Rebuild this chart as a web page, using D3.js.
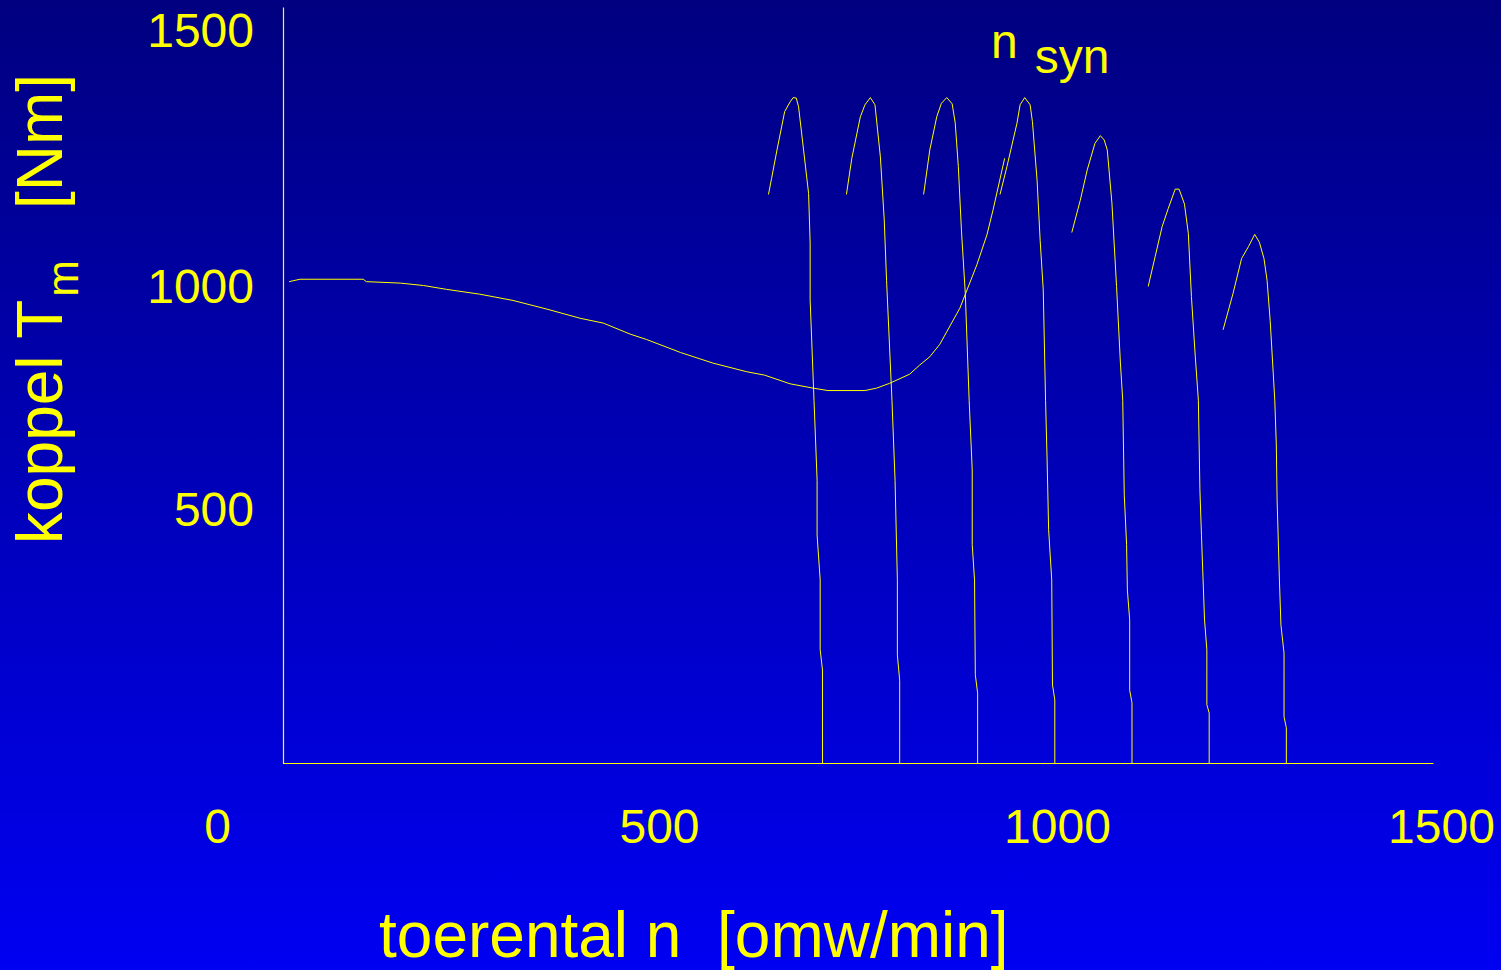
<!DOCTYPE html>
<html>
<head>
<meta charset="utf-8">
<script src="https://cdn.jsdelivr.net/npm/d3@7"></script>
<style>
body { margin: 0; }
svg { display: block; }
text { font-family: "Liberation Sans", Arial, sans-serif; fill: #ffff00; }
</style>
</head>
<body>
<div id="chart"></div>
<script>
var xTickLabels = [0, 500, 1000, 1500];
var yTickLabels = [500, 1000, 1500];

// load curve (speed in omw/min, torque in Nm)
var loadN = [8, 22, 104, 108, 152, 182, 212, 255, 298, 342, 385, 415, 450, 471, 515, 557, 601, 624, 657, 687, 706, 754, 769, 786, 812, 825, 838, 851, 877, 899, 912, 920, 935];
var loadT = [1000, 1005, 1005, 1000, 997, 992, 984, 974, 961, 943, 924, 914, 891, 880, 853, 831, 813, 806, 788, 779, 774, 774, 779, 789, 808, 827, 844, 870, 945, 1035, 1097, 1149, 1256];

// motor curves, one per synchronous speed
var motorSync = [700, 800, 900, 1000, 1100, 1200, 1300];
var motorN = [
  [629, 633, 640, 650, 657, 661, 665, 668, 681, 683, 683, 688, 692, 692, 696, 696, 699, 699],
  [730, 737, 748, 754, 761, 767, 774, 779, 782, 789, 793, 796, 796, 799, 799],
  [830, 838, 847, 853, 860, 867, 871, 875, 879, 884, 889, 893, 893, 896, 897, 900, 900],
  [929, 938, 951, 955, 961, 968, 971, 977, 981, 985, 988, 990, 992, 996, 997, 1000, 1000],
  [1022, 1033, 1042, 1052, 1059, 1064, 1068, 1074, 1080, 1085, 1088, 1090, 1093, 1094, 1097, 1097, 1100, 1100],
  [1121, 1130, 1139, 1147, 1156, 1161, 1168, 1173, 1177, 1182, 1186, 1188, 1190, 1194, 1197, 1197, 1200, 1200],
  [1218, 1231, 1242, 1251, 1259, 1265, 1271, 1275, 1279, 1283, 1285, 1287, 1288, 1291, 1293, 1297, 1297, 1300, 1300]
];
var motorT = [
  [1181, 1214, 1273, 1353, 1373, 1382, 1381, 1363, 1183, 1080, 962, 754, 588, 474, 381, 236, 194, 0],
  [1181, 1256, 1342, 1367, 1382, 1367, 1259, 1128, 1003, 754, 588, 381, 225, 173, 0],
  [1181, 1273, 1342, 1370, 1382, 1369, 1329, 1239, 1107, 976, 754, 609, 454, 381, 184, 146, 0],
  [1181, 1239, 1329, 1367, 1382, 1367, 1332, 1211, 1086, 983, 754, 630, 485, 381, 163, 132, 0],
  [1102, 1169, 1232, 1287, 1303, 1294, 1273, 1163, 990, 831, 754, 557, 454, 360, 298, 152, 126, 0],
  [990, 1052, 1114, 1152, 1192, 1192, 1161, 1100, 969, 844, 754, 568, 474, 298, 236, 122, 105, 0],
  [900, 976, 1048, 1073, 1098, 1082, 1048, 1003, 920, 810, 754, 661, 547, 381, 287, 229, 97, 74, 0]
];

var width = 1501;
var height = 970;

var svg = d3.select('#chart').append('svg')
   .attr('width', width)
   .attr('height', height);

var grad = svg.append('defs').append('linearGradient')
   .attr('id', 'bg')
   .attr('x1', 0).attr('y1', 0).attr('x2', 0).attr('y2', 1);
grad.append('stop').attr('offset', '0%').attr('stop-color', '#000080');
grad.append('stop').attr('offset', '100%').attr('stop-color', '#0000f2');

svg.append('rect')
   .attr('width', width)
   .attr('height', height)
   .attr('fill', 'url(#bg)');

var xScale = d3.scaleLinear().domain([0, 1490]).range([283, 1433]);
var yScale = d3.scaleLinear().domain([0, 1570]).range([763.5, 7]);

// the tick labels on the slide sit a bit off the data scale
var xLabelScale = d3.scaleLinear().domain(xTickLabels).range([217, 659, 1057, 1441]);
var yLabelScale = d3.scaleLinear().domain(yTickLabels).range([510, 287, 31]);

var xAxis = svg.append('g')
   .attr('transform', 'translate(0,' + Math.floor(yScale(0)) + ')')
   .call(d3.axisBottom(xScale).tickValues([]).tickSizeOuter(0));
var yAxis = svg.append('g')
   .attr('transform', 'translate(' + xScale(0) + ',0)')
   .call(d3.axisLeft(yScale).tickValues([]).tickSizeOuter(0));
xAxis.select('.domain').attr('stroke', '#ffff00').attr('stroke-width', 1.2);
yAxis.select('.domain').attr('stroke', '#ffff00').attr('stroke-width', 1.2);

var xLabels = svg.append('g')
   .attr('transform', 'translate(0,809)')
   .call(d3.axisBottom(xLabelScale).tickValues(xTickLabels).tickSize(0).tickPadding(0).tickFormat(d3.format('d')));
var yLabels = svg.append('g')
   .attr('transform', 'translate(254,0)')
   .call(d3.axisLeft(yLabelScale).tickValues(yTickLabels).tickSize(0).tickPadding(0).tickFormat(d3.format('d')));
[xLabels, yLabels].forEach(function(g) {
   g.select('.domain').remove();
   g.attr('color', '#ffff00')
    .attr('font-size', 48)
    .attr('font-family', '"Liberation Sans", Arial, sans-serif');
});

var line = d3.line()
   .x(function(d) { return xScale(d[0]); })
   .y(function(d) { return yScale(d[1]); });

svg.append('path')
   .attr('d', line(d3.zip(loadN, loadT)))
   .attr('stroke', '#ffff00')
   .attr('stroke-width', 1)
   .attr('fill', 'none');

svg.selectAll('.motor')
   .data(motorSync)
   .enter().append('path')
   .attr('class', 'motor')
   .attr('d', function(d, i) { return line(d3.zip(motorN[i], motorT[i])); })
   .attr('stroke', '#ffff00')
   .attr('stroke-width', 1)
   .attr('fill', 'none');

// titles
svg.append('text')
   .attr('x', 379)
   .attr('y', 957)
   .attr('font-size', 64)
   .attr('xml:space', 'preserve')
   .text('toerental n  [omw/min]');

var yTitle = svg.append('text')
   .attr('transform', 'translate(62,544) rotate(-90)')
   .attr('font-size', 64);
yTitle.append('tspan').text('koppel T');
yTitle.append('tspan').attr('font-size', 44).attr('dx', 3).attr('dy', 16).text('m');
yTitle.append('tspan').attr('x', 335).attr('dy', -16).text('[Nm]');

var nsyn = svg.append('text')
   .attr('x', 991)
   .attr('y', 58)
   .attr('font-size', 48);
nsyn.append('tspan').text('n');
nsyn.append('tspan').attr('dx', 17).attr('dy', 15).text('syn');
</script>
</body>
</html>
